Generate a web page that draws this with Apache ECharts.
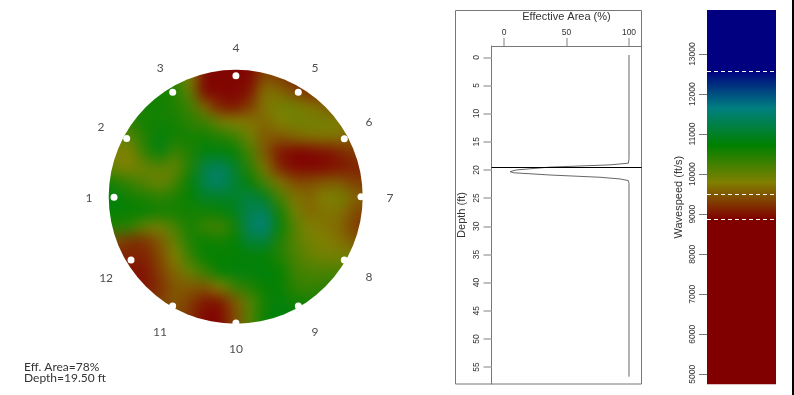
<!DOCTYPE html>
<html>
<head>
<meta charset="utf-8">
<title>Effective area</title>
<script src="https://cdn.jsdelivr.net/npm/echarts@6/dist/echarts.min.js"></script>
<style>
  html, body { margin: 0; padding: 0; background: #fff; }
  #page { position: relative; width: 794px; height: 395px; overflow: hidden; }
  /* the disc: heatmap is softened and cut to a circle */
  #discClip { position: absolute; left: 0; top: 0; width: 794px; height: 395px; clip-path: circle(127px at 235.7px 196.8px); }
  #disc { position: absolute; left: 0; top: 0; width: 794px; height: 395px; filter: blur(7px); }
  #main { position: absolute; left: 0; top: 0; width: 794px; height: 395px; }
</style>
</head>
<body>
<div id="page">
  <div id="discClip"><div id="disc"></div></div>
  <div id="main"></div>
</div>
<script>
// wavespeed across the section, hundreds of ft/s, rows top to bottom
const discRows = [
  [105,105,105,105,105,105,104,98,89,89,89,89,93,93,92,91,91,91,91,91,91],
  [105,105,105,105,105,105,104,98,89,89,89,89,93,93,92,91,91,91,91,91,91],
  [105,105,105,105,105,105,104,98,89,89,89,89,94,93,91,90,90,91,91,91,91],
  [105,105,105,105,106,106,105,100,89,89,89,90,97,96,94,92,92,92,92,92,92],
  [104,104,105,105,106,106,105,103,96,91,90,93,97,99,99,97,96,93,92,92,92],
  [103,103,103,104,106,106,106,104,103,99,98,97,96,98,99,99,99,98,96,95,95],
  [102,102,101,101,105,108,106,106,106,105,103,99,95,95,96,97,97,97,95,94,94],
  [99,99,98,98,104,108,103,105,108,108,107,102,95,90,89,89,90,91,93,93,93],
  [100,100,99,98,100,101,100,105,112,114,110,104,97,91,89,89,89,90,91,91,91],
  [107,107,105,103,101,99,102,107,113,115,111,107,102,97,94,94,95,95,93,93,93],
  [108,108,108,106,105,104,105,107,110,110,110,112,109,102,97,96,98,99,96,95,95],
  [107,107,107,107,107,106,106,106,106,107,109,113,114,106,99,96,97,97,94,93,93],
  [105,105,105,104,100,99,102,106,103,102,106,114,116,107,101,98,97,96,93,92,92],
  [93,93,94,92,92,95,100,105,107,106,107,111,111,105,101,99,98,97,95,95,95],
  [91,91,91,91,91,94,98,103,107,107,107,107,107,105,102,100,99,99,99,99,99],
  [90,90,90,90,90,93,96,100,103,107,108,108,108,107,103,102,102,102,102,102,102],
  [90,90,90,90,90,92,95,95,95,98,103,105,107,107,104,103,104,104,104,104,104],
  [92,92,92,92,92,93,95,93,90,90,95,101,106,108,106,106,106,106,106,106,106],
  [93,93,93,93,93,93,94,92,89,89,94,101,107,108,108,108,108,108,108,108,108],
  [93,93,93,93,93,93,94,92,89,89,94,101,107,108,108,108,108,108,108,108,108],
  [93,93,93,93,93,93,94,92,89,89,94,101,107,108,108,108,108,108,108,108,108]
];

const sensorNames = ['1','2','3','4','5','6','7','8','9','10','11','12'];
const sensorAngles = [179.4,151.5,121.2,90.5,60,29.1,0.8,330.2,299.7,269.5,239.1,210.1];
const sensorRadii = [123,125.5,124.1,122.8,122.6,122.8,124,123.7,123.8,124.5,125.3,122.5];
const labelAngles = [180,152.3,120.5,90.4,59.1,30.1,0.2,329.3,300.3,269.6,240,211.3];
const labelRadii = [148,153.6,151.5,150.5,152,152.6,153,153.6,154.6,150.5,154,153.2];

const effectiveArea = [100,100,99.5,84.8,36.8,10,4.8,7.5,36.8,76.8,92.8,99.5,100,100];
const depth = [-0.4,18,18.8,19.1,19.5,20,20.3,20.5,20.9,21.3,21.6,21.9,22.4,56.7];
const selectedDepth = 19.5;
const areaTicks = [0,50,100];
const depthTicks = [0,5,10,15,20,25,30,35,40,45,50,55];

const speedTicks = [5000,6000,7000,8000,9000,10000,11000,12000,13000];
const speedMarks = [12570,9495,8870];
const speedStops = [8870,9795,10720,11645,12570];
const stopColors = ['#800000','#808000','#008000','#008080','#000080'];
const speedMin = 4750;
const speedMax = 14100;

const axisText = { color: '#333', fontSize: 8.5, fontFamily: 'Liberation Sans' };
const nameText = { color: '#333', fontSize: 11, fontFamily: 'Liberation Sans' };
const discText = { color: '#222', fontSize: 12, fontFamily: 'Lato' };

// disc
let discChart = echarts.init(document.getElementById('disc'), null, { renderer: 'canvas' });
let discData = [];
discRows.forEach((row, j) => row.forEach((v, i) => discData.push([i, j, v])));
discChart.setOption({
  animation: false,
  grid: { left: 77.5, top: 39.5, width: 315, height: 315 },
  xAxis: { type: 'category', show: false, data: discRows[0].map((v, i) => i) },
  yAxis: { type: 'category', show: false, inverse: true, data: discRows.map((v, j) => j) },
  visualMap: {
    show: false,
    min: speedStops[0] / 100,
    max: speedStops[speedStops.length - 1] / 100,
    inRange: { color: stopColors },
  },
  series: [{ type: 'heatmap', data: discData, silent: true, progressive: 0 }],
});

// sensors, logs and colour bar
let speedGradient = new echarts.graphic.LinearGradient(0, 1, 0, 0, [
  { offset: 0, color: stopColors[0] },
  ...speedStops.map((s, i) => ({ offset: (s - speedMin) / (speedMax - speedMin), color: stopColors[i] })),
  { offset: 1, color: stopColors[stopColors.length - 1] },
]);

let myChart = echarts.init(document.getElementById('main'));
myChart.setOption({
  animation: false,
  backgroundColor: 'transparent',
  polar: { center: [237, 198.5], radius: [0, 160] },
  angleAxis: { type: 'value', min: 0, max: 360, clockwise: false, startAngle: 0, show: false },
  radiusAxis: { type: 'value', min: 0, max: 160, show: false },
  grid: [
    { left: 491.5, top: 46, width: 150, height: 338 },
    { left: 707, top: 10, width: 69, height: 374.3 },
  ],
  xAxis: [
    {
      gridIndex: 0,
      type: 'value',
      position: 'top',
      min: -10,
      max: 110,
      name: 'Effective Area (%)',
      nameLocation: 'middle',
      nameGap: 24,
      nameTextStyle: nameText,
      splitLine: { show: false },
      axisLine: { show: true, onZero: false, lineStyle: { color: '#777' } },
      axisTick: { show: true, length: 8, customValues: areaTicks, lineStyle: { color: '#aaa', width: 1.5 } },
      axisLabel: { ...axisText, margin: 9, customValues: areaTicks, formatter: (v) => String(v) },
    },
    { gridIndex: 1, type: 'category', show: false, data: ['speed'] },
  ],
  yAxis: [
    {
      gridIndex: 0,
      type: 'value',
      inverse: true,
      min: -2,
      max: 58,
      name: 'Depth (ft)',
      nameLocation: 'middle',
      nameGap: 24,
      nameTextStyle: nameText,
      splitLine: { show: false },
      axisLine: { show: true, onZero: false, lineStyle: { color: '#777' } },
      axisTick: { show: true, length: 8, customValues: depthTicks, lineStyle: { color: '#aaa', width: 1.5 } },
      axisLabel: { ...axisText, rotate: 90, margin: 10, customValues: depthTicks, formatter: (v) => String(v) },
    },
    {
      gridIndex: 1,
      type: 'value',
      min: speedMin,
      max: speedMax,
      name: 'Wavespeed (ft/s)',
      nameLocation: 'middle',
      nameGap: 23,
      nameTextStyle: nameText,
      splitLine: { show: false },
      axisLine: { show: false },
      axisTick: { show: true, length: 8, customValues: speedTicks, lineStyle: { color: '#777' } },
      axisLabel: { ...axisText, rotate: 90, margin: 10, customValues: speedTicks, formatter: (v) => String(v) },
    },
  ],
  series: [
    {
      type: 'scatter',
      coordinateSystem: 'polar',
      data: sensorAngles.map((a, i) => [sensorRadii[i], a]),
      symbolSize: 7,
      itemStyle: { color: '#fff', opacity: 1 },
      silent: true,
    },
    {
      type: 'scatter',
      coordinateSystem: 'polar',
      data: labelAngles.map((a, i) => ({ value: [labelRadii[i], a], name: sensorNames[i] })),
      symbolSize: 0,
      silent: true,
      label: { show: true, position: 'inside', formatter: '{b}', ...discText },
    },
    {
      type: 'line',
      xAxisIndex: 0,
      yAxisIndex: 0,
      data: effectiveArea.map((v, i) => [v, depth[i]]),
      symbol: 'none',
      silent: true,
      lineStyle: { color: '#666', width: 1 },
      markLine: {
        silent: true,
        symbol: 'none',
        label: { show: false },
        lineStyle: { color: '#000', width: 1, type: 'solid' },
        data: [{ yAxis: selectedDepth }],
      },
    },
    {
      type: 'bar',
      xAxisIndex: 1,
      yAxisIndex: 1,
      data: [speedMax],
      barWidth: '100%',
      silent: true,
      itemStyle: { color: speedGradient },
      markLine: {
        silent: true,
        symbol: 'none',
        label: { show: false },
        lineStyle: { color: '#fff', width: 1, type: [4, 3] },
        data: speedMarks.map((s) => ({ yAxis: s })),
      },
    },
  ],
  graphic: [
    { type: 'rect', silent: true, shape: { x: 455.5, y: 10.5, width: 186, height: 373.5 }, style: { fill: 'none', stroke: '#777', lineWidth: 1 } },
    { type: 'rect', silent: true, shape: { x: 792, y: 0, width: 2, height: 395 }, style: { fill: '#000' } },
    { type: 'text', silent: true, left: 24, top: 361, style: { text: 'Eff. Area=78%', fill: '#333', fontSize: 12, fontFamily: 'Lato' } },
    { type: 'text', silent: true, left: 24, top: 372, style: { text: 'Depth=19.50 ft', fill: '#333', fontSize: 12, fontFamily: 'Lato' } },
  ],
});
</script>
</body>
</html>
